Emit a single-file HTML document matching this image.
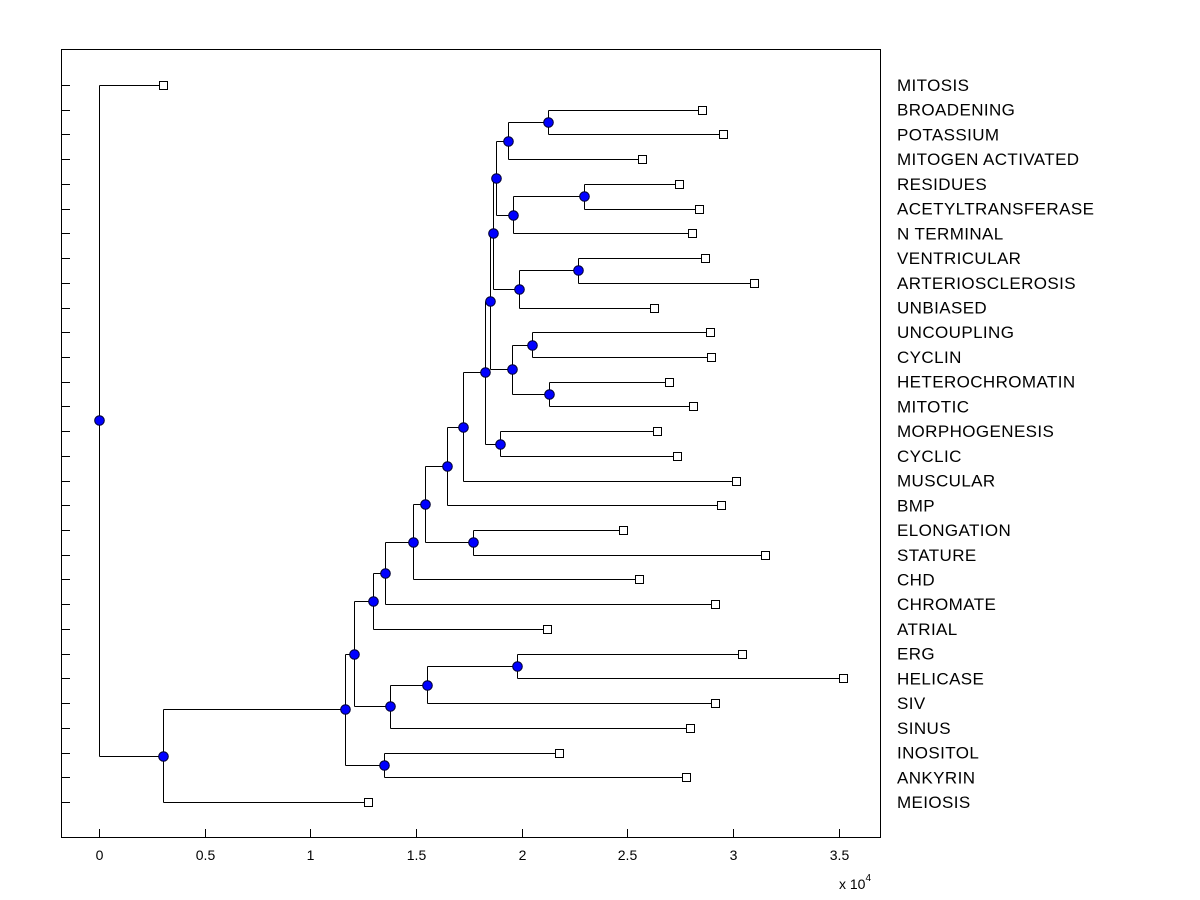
<!DOCTYPE html>
<html><head><meta charset="utf-8"><style>
html,body{margin:0;padding:0;background:#fff;}
svg{display:block;font-family:"Liberation Sans",Arial,sans-serif;}
</style></head><body>
<svg id="chart" width="1200" height="900" viewBox="0 0 1200 900">
<rect x="0" y="0" width="1200" height="900" fill="#fff"/>
<rect x="61.5" y="49.5" width="819" height="788" fill="#fff" stroke="#000" stroke-width="1"/>
<g id="axes"></g>
<g id="tree"></g>
<text x="839" y="889" font-size="14">x 10<tspan dy="-8" font-size="10">4</tspan></text>
</svg>
<script>
const leafNames=["MITOSIS","BROADENING","POTASSIUM","MITOGEN ACTIVATED","RESIDUES","ACETYLTRANSFERASE","N TERMINAL","VENTRICULAR","ARTERIOSCLEROSIS","UNBIASED","UNCOUPLING","CYCLIN","HETEROCHROMATIN","MITOTIC","MORPHOGENESIS","CYCLIC","MUSCULAR","BMP","ELONGATION","STATURE","CHD","CHROMATE","ATRIAL","ERG","HELICASE","SIV","SINUS","INOSITOL","ANKYRIN","MEIOSIS"];
const leafVal=[0.303,2.854,2.953,2.570,2.745,2.840,2.806,2.868,3.100,2.627,2.892,2.896,2.698,2.811,2.641,2.735,3.015,2.944,2.480,3.152,2.556,2.915,2.120,3.043,3.521,2.915,2.797,2.177,2.778,1.273];
const nodeKids=[[1,2],[30,3],[4,5],[32,6],[31,33],[7,8],[35,9],[34,36],[10,11],[12,13],[38,39],[37,40],[14,15],[41,42],[43,16],[44,17],[18,19],[45,46],[47,20],[48,21],[49,22],[23,24],[51,25],[52,26],[50,53],[27,28],[54,55],[56,29],[0,57]];
const nodeVal=[2.125,1.936,2.295,1.959,1.879,2.267,1.988,1.865,2.049,2.130,1.955,1.850,1.898,1.827,1.723,1.647,1.770,1.543,1.486,1.354,1.297,1.978,1.552,1.377,1.207,1.349,1.164,0.303,0];
const xTicks=[0,0.5,1,1.5,2,2.5,3,3.5];

const NS="http://www.w3.org/2000/svg";
const X0=99, XS=211.3, Y0=85, YS=(802-85)/29;
const sx=v=>X0+v*XS;
function mk(tag,attrs,parent){const e=document.createElementNS(NS,tag);for(const k in attrs)e.setAttribute(k,attrs[k]);parent.appendChild(e);return e;}
const axes=document.getElementById('axes'), tree=document.getElementById('tree');

xTicks.forEach(t=>{
  const x=Math.round(sx(t))+0.5;
  const tk=mk('line',{x1:x,x2:x,y1:837,y2:829,stroke:'#000'},axes);
  
  
  const lb=mk('text',{x:x,y:860,'font-size':14,'text-anchor':'middle'},axes);
  lb.textContent=String(t);
  
  
});

const N=leafNames.length;
const posX=[],posY=[];
leafNames.forEach((n,i)=>{posX[i]=sx(leafVal[i]);posY[i]=Y0+i*YS;
  const y=Math.round(posY[i])+0.5;
  const tk=mk('line',{x1:61,x2:70,y1:y,y2:y,stroke:'#000'},axes);
  
  
  const lb=mk('text',{x:897,y:posY[i]+6,'font-size':17,'letter-spacing':'0.4'},axes);
  lb.textContent=n;
  
  
});
nodeKids.forEach((k,j)=>{const id=N+j;posX[id]=sx(nodeVal[j]);posY[id]=(posY[k[0]]+posY[k[1]])/2;});

nodeKids.forEach((k,j)=>{
  const id=N+j,x=Math.round(posX[id])+0.5;
  const v=mk('line',{x1:x,x2:x,y1:Math.round(posY[k[0]])+0.5,y2:Math.round(posY[k[1]])+0.5,stroke:'#000'},tree);
  
  
  k.forEach(c=>{const y=Math.round(posY[c])+0.5;
    const h=mk('line',{x1:x,x2:Math.round(posX[c])+0.5,y1:y,y2:y,stroke:'#000'},tree);
    
    
  });
});
for(let i=0;i<N;i++){
  const r=mk('rect',{x:Math.round(posX[i])-3.5,y:Math.round(posY[i])-3.5,width:8,height:8,fill:'#fff',stroke:'#000'},tree);
  
  
}
nodeKids.forEach((k,j)=>{const id=N+j;
  const c=mk('circle',{cx:Math.round(posX[id])+0.5,cy:Math.round(posY[id])+0.5,r:4.8,fill:'#0000ff',stroke:'#000033','stroke-width':1},tree);
  
  
});
</script>
</body></html>
